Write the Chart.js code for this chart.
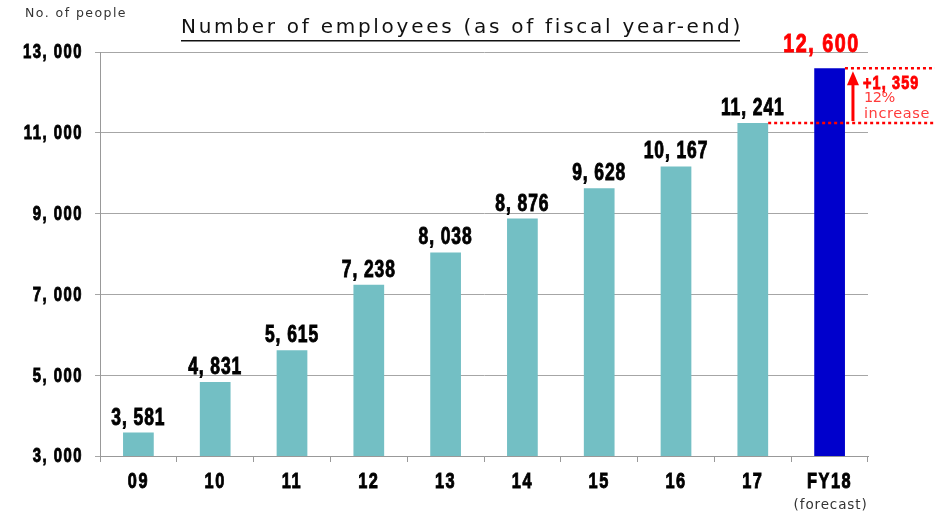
<!DOCTYPE html>
<html>
<head>
<meta charset="utf-8">
<script src="https://cdn.jsdelivr.net/npm/chart.js@4"></script>
<style>
  html, body { margin: 0; padding: 0; background: #fff; }
  #wrap { width: 948px; height: 513px; position: relative; }
</style>
</head>
<body>
<div id="wrap"><canvas id="empChart"></canvas></div>
<script>
// headcount at each fiscal year-end
const categories = ['09', '10', '11', '12', '13', '14', '15', '16', '17', 'FY18'];
const employees = [3581, 4831, 5615, 7238, 8038, 8876, 9628, 10167, 11241, 12600];
const yTicks = [3000, 5000, 7000, 9000, 11000, 13000];
const barColors = ['#73bfc4', '#73bfc4', '#73bfc4', '#73bfc4', '#73bfc4',
                   '#73bfc4', '#73bfc4', '#73bfc4', '#73bfc4', '#0000cc'];

const BOLD = "'Liberation Sans', Arial, sans-serif";
const PLAIN = "'DejaVu Sans', Verdana, sans-serif";
const SQUEEZE = 0.76;

// "12,600" -> "12, 600"
function fmt(v) {
    return v.toLocaleString('en-US').replace(/,/g, ', ');
}

// heavy figures drawn horizontally condensed
function narrowText(ctx, text, x, y, size, spacing) {
    ctx.save();
    ctx.font = 'bold ' + size + 'px ' + BOLD;
    ctx.letterSpacing = spacing + 'px';
    ctx.strokeStyle = ctx.fillStyle;
    ctx.lineWidth = 0.9;
    ctx.translate(x, y);
    ctx.scale(SQUEEZE, 1);
    ctx.fillText(text, 0, 0);
    ctx.strokeText(text, 0, 0);
    ctx.restore();
}

// plain text stretched with letter spacing to a given width
function spacedText(ctx, text, x, y, size, width) {
    ctx.save();
    ctx.font = size + 'px ' + PLAIN;
    ctx.letterSpacing = '0px';
    const w = ctx.measureText(text).width;
    ctx.letterSpacing = ((width - w) / text.length) + 'px';
    ctx.fillText(text, x, y);
    ctx.restore();
}

const labelsPlugin = {
    id: 'labels',
    afterDraw(chart) {
        const ctx = chart.ctx;
        const xs = chart.scales.x;
        const ys = chart.scales.y;
        const bars = chart.getDatasetMeta(0).data;
        const last = bars.length - 1;

        ctx.save();
        // axis unit and title
        ctx.textAlign = 'left';
        ctx.textBaseline = 'middle';
        ctx.fillStyle = '#333';
        spacedText(ctx, 'No. of people', 25, 14, 12.5, 102);
        ctx.fillStyle = '#111';
        spacedText(ctx, 'Number of employees (as of fiscal year-end)', 181, 28, 20, 562);
        ctx.fillRect(181, 40, 559, 1.5);

        // y tick labels
        ctx.fillStyle = '#000';
        ctx.textAlign = 'right';
        ctx.textBaseline = 'middle';
        yTicks.forEach(v => {
            narrowText(ctx, fmt(v), 83, ys.getPixelForValue(v) + 1, 19.5, 2);
        });

        // x tick labels
        ctx.textAlign = 'center';
        categories.forEach((c, i) => {
            narrowText(ctx, c, xs.getPixelForTick(i), 482, 21.5, 2);
        });
        ctx.fillStyle = '#333';
        ctx.textAlign = 'left';
        spacedText(ctx, '(forecast)', bars[last].x - 36, 505, 13.5, 74);

        // value labels over the bars
        ctx.textAlign = 'center';
        ctx.textBaseline = 'alphabetic';
        bars.forEach((bar, i) => {
            if (i === last) {
                ctx.fillStyle = '#ff0000';
                narrowText(ctx, fmt(employees[i]), bar.x - 8, bar.y - 16, 26, 2);
            } else {
                ctx.fillStyle = '#000';
                narrowText(ctx, fmt(employees[i]), bar.x, bar.y - 8, 23, 1.2);
            }
        });

        // increase from FY17 to FY18
        const yNew = ys.getPixelForValue(employees[last]);
        const yOld = ys.getPixelForValue(employees[last - 1]);
        const right = bars[last].x + bars[last].width / 2;
        const prevRight = bars[last - 1].x + bars[last - 1].width / 2;
        ctx.strokeStyle = '#ff0000';
        ctx.lineWidth = 2.5;
        ctx.setLineDash([3, 3]);
        ctx.beginPath();
        ctx.moveTo(right, yNew);
        ctx.lineTo(935, yNew);
        ctx.moveTo(prevRight, yOld);
        ctx.lineTo(935, yOld);
        ctx.stroke();
        ctx.setLineDash([]);

        const ax = right + 8;
        ctx.lineWidth = 3;
        ctx.beginPath();
        ctx.moveTo(ax, yOld - 2);
        ctx.lineTo(ax, yNew + 14);
        ctx.stroke();
        ctx.fillStyle = '#ff0000';
        ctx.beginPath();
        ctx.moveTo(ax, yNew + 3);
        ctx.lineTo(ax - 6, yNew + 17);
        ctx.lineTo(ax + 6, yNew + 17);
        ctx.closePath();
        ctx.fill();

        const diff = employees[last] - employees[last - 1];
        const pct = Math.round(diff / employees[last - 1] * 100);
        ctx.textAlign = 'left';
        ctx.textBaseline = 'middle';
        narrowText(ctx, '+' + fmt(diff), ax + 10, yNew + 16, 19, 1.5);
        ctx.fillStyle = '#ff3b3b';
        spacedText(ctx, pct + '%', ax + 11, yNew + 30, 14.5, 31);
        spacedText(ctx, 'increase', ax + 11, yNew + 46, 14.5, 66);
        ctx.restore();
    }
};

new Chart(document.getElementById('empChart'), {
    type: 'bar',
    data: {
        labels: categories,
        datasets: [{
            data: employees,
            backgroundColor: barColors,
            barPercentage: 0.4,
            categoryPercentage: 1.0
        }]
    },
    options: {
        responsive: true,
        maintainAspectRatio: false,
        animation: false,
        layout: { padding: { top: 52, right: 80, left: 0, bottom: 0 } },
        plugins: {
            legend: { display: false },
            tooltip: { enabled: false }
        },
        scales: {
            x: {
                afterFit(scale) { scale.height = 57; },
                grid: {
                    drawOnChartArea: false,
                    tickLength: 6,
                    color: '#999'
                },
                border: { color: '#999' },
                ticks: { display: false }
            },
            y: {
                min: yTicks[0],
                max: yTicks[yTicks.length - 1],
                afterFit(scale) { scale.width = 100; },
                afterBuildTicks(scale) {
                    scale.ticks = yTicks.map(v => ({ value: v }));
                },
                grid: { color: '#a6a6a6', tickLength: 5 },
                border: { color: '#999' },
                ticks: { display: false }
            }
        }
    },
    plugins: [labelsPlugin]
});
</script>
</body>
</html>
